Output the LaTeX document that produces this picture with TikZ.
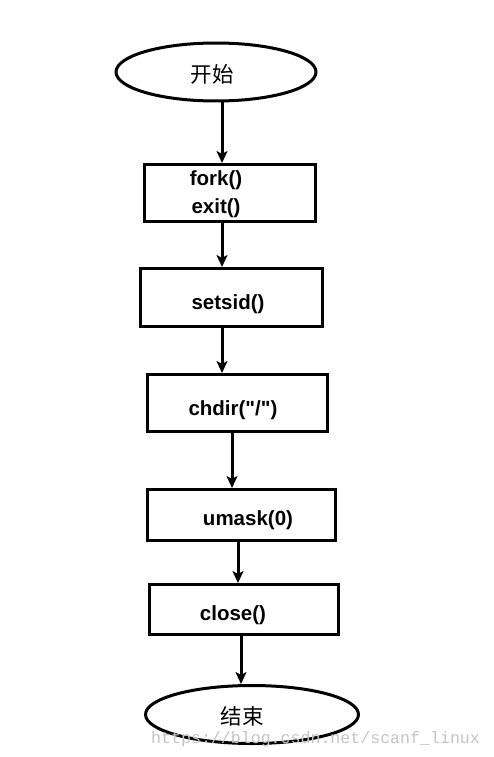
\documentclass[tikz,border=0pt]{standalone}
\usepackage{fontspec}
\setmainfont{Liberation Sans}[Ligatures=TeXOff]
\newfontfamily\cjkfont{Noto Sans CJK SC}
\newfontfamily\markfont{Liberation Mono}
\usetikzlibrary{arrows.meta, shapes.geometric}

\begin{document}
\begin{tikzpicture}[
    x=1pt, y=-1pt,
    every node/.style={font=\bfseries\fontsize{20.5}{28}\selectfont},
    terminal/.style={ellipse, draw=linecolor, line width=3pt, fill=white,
                     inner sep=0pt},
    termtext/.style={font=\cjkfont\fontsize{21.5}{24}\selectfont, text=textcolor},
    stepbox/.style={rectangle, draw=linecolor, line width=3pt, inner sep=0pt},
    boxtext/.style={align=center, text=textcolor},
    flow/.style={-{Stealth[length=12pt, width=11pt, inset=3pt]}, line width=3pt,
                 draw=linecolor},
]

\definecolor{linecolor}{HTML}{000000}
\definecolor{textcolor}{HTML}{000000}
\definecolor{markcolor}{HTML}{C4C4C4}

\useasboundingbox[fill=white] (0,0) rectangle (493,757);

% ---------------------------------------------------------------- terminals
\node[terminal, minimum width=200, minimum height=58] (start) at (216, 72) {};
\node[termtext] (startlbl) at (212, 74) {开始};

\node[terminal, minimum width=213, minimum height=58] (stop) at (252, 714.5) {};
\node[termtext] (stoplbl) at (242, 716) {结束};

% ---------------------------------------------------------------- steps
\node[stepbox, minimum width=171, minimum height=57] (fork) at (230, 193) {};
\node[boxtext] (forklbl) at (216, 194) {fork()\\exit()};

\node[stepbox, minimum width=182, minimum height=58] (setsid) at (231.5, 297.5) {};
\node[boxtext] (setsidlbl) at (228, 304) {setsid()};

\node[stepbox, minimum width=180, minimum height=57] (chdir) at (237.5, 403) {};
\node[boxtext] (chdirlbl) at (233, 410) {chdir("/")};

\node[stepbox, minimum width=188, minimum height=51] (umask) at (241.5, 515) {};
\node[boxtext] (umasklbl) at (248, 520) {umask(0)};

\node[stepbox, minimum width=189, minimum height=50] (close) at (244, 609.5) {};
\node[boxtext] (closelbl) at (233, 615) {close()};

% ---------------------------------------------------------------- arrows
\draw[flow] (start.south -| 222,0) -- (fork.north -| 222,0);
\draw[flow] (fork.south -| 222,0) -- (setsid.north -| 222,0);
\draw[flow] (setsid.south -| 222,0) -- (chdir.north -| 222,0);
\draw[flow] (chdir.south -| 232,0) -- (umask.north -| 232,0);
\draw[flow] (umask.south -| 238,0) -- (close.north -| 238,0);
\draw[flow] (close.south -| 241,0) -- (stop.north -| 241,0);

% ---------------------------------------------------------------- watermark
\node[font=\markfont\fontsize{16.6}{18}\selectfont, text=markcolor,
      anchor=base west, inner sep=0pt] (mark) at (151, 743)
    {https://blog.csdn.net/scanf\_linux};

\end{tikzpicture}
\end{document}
